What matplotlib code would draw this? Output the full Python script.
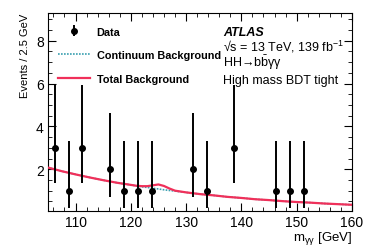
import numpy as np
import matplotlib.pyplot as plt
from matplotlib.ticker import MultipleLocator

plt.rcParams['font.family'] = ['Liberation Sans', 'DejaVu Sans']
plt.rcParams['mathtext.fontset'] = 'custom'
plt.rcParams['mathtext.rm'] = 'Liberation Sans'
plt.rcParams['mathtext.it'] = 'Liberation Sans:italic'

# data points (bin centres, 2.5 GeV bins), empty bins not drawn
data_x = [106.25, 108.75, 111.25, 116.25, 118.75, 121.25, 123.75,
          131.25, 133.75, 138.75, 146.25, 148.75, 151.25]
data_y = [3, 1, 3, 2, 1, 1, 1, 2, 1, 3, 1, 1, 1]
err_lo = [1.63, 0.83, 1.63, 1.29, 0.83, 0.83, 0.83, 1.29, 0.83, 1.63, 0.83, 0.83, 0.83]
err_hi = [2.92, 2.30, 2.92, 2.64, 2.30, 2.30, 2.30, 2.64, 2.30, 2.92, 2.30, 2.30, 2.30]

# background curves
curve_x = [105, 107.5, 110, 112.5, 115, 117.5, 120, 121, 122, 123, 124, 125,
           126, 127, 128, 129, 130, 132.5, 135, 137.5, 140, 142.5, 145,
           147.5, 150, 152.5, 155, 157.5, 160]
continuum = [2.08, 1.91, 1.76, 1.62, 1.49, 1.37, 1.27, 1.22, 1.18, 1.15, 1.11, 1.08,
             1.04, 1.01, 0.98, 0.95, 0.92, 0.84, 0.78, 0.71, 0.66, 0.60, 0.56,
             0.51, 0.47, 0.44, 0.40, 0.37, 0.34]
total = [2.08, 1.91, 1.76, 1.62, 1.49, 1.37, 1.27, 1.23, 1.21, 1.21, 1.25, 1.29,
         1.22, 1.10, 1.00, 0.96, 0.92, 0.84, 0.78, 0.71, 0.66, 0.60, 0.56,
         0.51, 0.47, 0.44, 0.40, 0.37, 0.34]

fig = plt.figure(figsize=(3.74, 2.53), dpi=100)
ax = fig.add_axes([0.128, 0.162, 0.813, 0.783])

ax.plot(curve_x, continuum, color='#3a9fb0', lw=1.2, ls=(0, (1, 0.8)),
        label='Continuum Background', zorder=2)
ax.plot(curve_x, total, color='#f0305a', lw=1.6, label='Total Background', zorder=3)
ax.errorbar(data_x, data_y, yerr=[err_lo, err_hi], fmt='o', color='black',
            ms=4, lw=1.4, capsize=0, label='Data', zorder=4)

ax.set_xlim(105, 160)
ax.set_ylim(0.05, 9.3)
ax.xaxis.set_major_locator(MultipleLocator(10))
ax.xaxis.set_minor_locator(MultipleLocator(2))
ax.yaxis.set_major_locator(MultipleLocator(2))
ax.yaxis.set_minor_locator(MultipleLocator(0.5))
ax.set_yticks([2, 4, 6, 8])
ax.tick_params(which='both', direction='in', top=True, right=True, labelsize=10, pad=3)
ax.tick_params(which='major', length=6)
ax.tick_params(which='minor', length=3)

ax.set_xlabel(r'm$_{\mathrm{γγ}}$ [GeV]', fontsize=9.5, loc='right', labelpad=0)
ax.set_ylabel('Events / 2.5 GeV', fontsize=8.0, loc='top', labelpad=4)

handles, labels = ax.get_legend_handles_labels()
order = [2, 0, 1]
ax.legend([handles[i] for i in order], [labels[i] for i in order],
          loc='upper left', bbox_to_anchor=(0.0, 0.98), frameon=False,
          prop={'weight': 'bold', 'size': 7.8}, handlelength=3.0,
          labelspacing=1.25, handletextpad=0.6)

ax.text(0.576, 0.889, 'ATLAS', transform=ax.transAxes, fontsize=9,
        fontweight='bold', style='italic')
ax.text(0.576, 0.81, '√s = 13 TeV, 139 fb$^{\\mathrm{-1}}$',
        transform=ax.transAxes, fontsize=9)
ax.text(0.576, 0.73, r'HH→b$\bar{\mathrm{b}}$γγ',
        transform=ax.transAxes, fontsize=9)
ax.text(0.576, 0.646, 'High mass BDT tight', transform=ax.transAxes, fontsize=9)

fig.savefig('out.png', dpi=100)
